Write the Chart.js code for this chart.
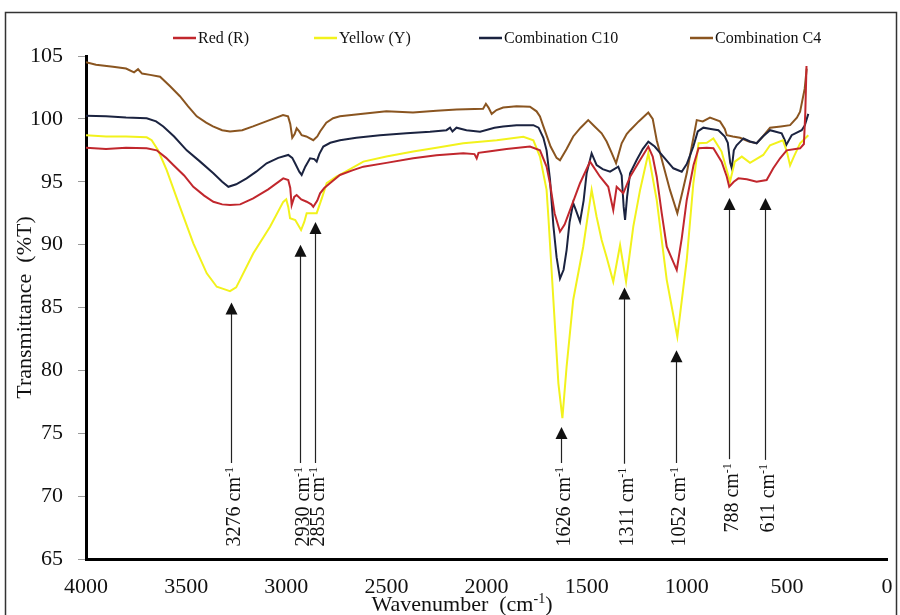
<!DOCTYPE html>
<html>
<head>
<meta charset="utf-8">
<title>FTIR spectra</title>
<script src="https://cdn.jsdelivr.net/npm/chart.js@4.4.0/dist/chart.umd.min.js"></script>
<style>
  html, body { margin: 0; padding: 0; background: #fff; }
  .chart-box { position: relative; width: 900px; height: 615px; }
</style>
</head>
<body>
<div class="chart-box"><canvas id="ftir-chart" width="900" height="615"></canvas></div>
<script>
"use strict";

// wavenumber ticks (cm-1), drawn reversed
var xTicks = [4000, 3500, 3000, 2500, 2000, 1500, 1000, 500, 0];
var yTicks = [65, 70, 75, 80, 85, 90, 95, 100, 105];

var seriesNames = ['Red (R)', 'Yellow (Y)', 'Combination C10', 'Combination C4'];

var redWave = [4000, 3900, 3800, 3697, 3647, 3600, 3564, 3510, 3464, 3410, 3364, 3320, 3281, 3230, 3165, 3090, 3015, 2990, 2980, 2973, 2960, 2948, 2925, 2898, 2875, 2865, 2845, 2831, 2810, 2782, 2732, 2670, 2615, 2500, 2366, 2250, 2116, 2060, 2049, 2040, 1990, 1900, 1783, 1733, 1700, 1683, 1660, 1633, 1610, 1583, 1533, 1483, 1433, 1392, 1367, 1350, 1317, 1283, 1233, 1192, 1170, 1150, 1125, 1100, 1050, 1025, 1000, 966, 941, 900, 867, 826, 800, 788, 765, 742, 700, 651, 601, 568, 534, 501, 434, 415, 408, 402];
var redT = [97.7, 97.6, 97.7, 97.66, 97.5, 96.9, 96.33, 95.5, 94.6, 93.9, 93.41, 93.2, 93.15, 93.2, 93.68, 94.4, 95.27, 95.14, 94.5, 93.15, 93.8, 93.95, 93.6, 93.41, 93.2, 93.0, 93.5, 94.08, 94.5, 94.88, 95.54, 95.9, 96.2, 96.5, 96.86, 97.1, 97.26, 97.2, 96.86, 97.3, 97.4, 97.6, 97.8, 97.5, 96.2, 94.88, 92.5, 91.03, 91.6, 92.75, 94.88, 96.6, 95.4, 94.6, 92.75, 94.6, 94.08, 95.4, 96.73, 97.8, 97.0, 95.4, 92.5, 89.83, 87.98, 90.5, 93.55, 96.33, 97.66, 97.7, 97.66, 96.6, 95.4, 94.6, 95.0, 95.27, 95.2, 95.0, 95.14, 96.07, 96.87, 97.5, 97.66, 98.0, 100.5, 104.2];

var yellowWave = [4000, 3900, 3800, 3697, 3672, 3640, 3597, 3531, 3464, 3397, 3347, 3300, 3281, 3250, 3231, 3165, 3081, 3015, 3000, 2990, 2981, 2955, 2926, 2910, 2898, 2848, 2820, 2798, 2750, 2732, 2615, 2500, 2366, 2250, 2116, 1949, 1816, 1766, 1733, 1700, 1691, 1666, 1641, 1621, 1600, 1567, 1517, 1475, 1450, 1425, 1400, 1367, 1350, 1333, 1303, 1267, 1233, 1192, 1150, 1100, 1047, 1000, 967, 941, 900, 867, 826, 784, 760, 725, 684, 618, 584, 520, 500, 484, 465, 434, 393];
var yellowT = [98.7, 98.6, 98.6, 98.53, 98.3, 97.5, 95.93, 93.0, 90.1, 87.72, 86.65, 86.4, 86.3, 86.6, 87.2, 89.3, 91.42, 93.4, 93.6, 93.0, 92.1, 91.96, 91.16, 91.8, 92.5, 92.5, 93.8, 94.88, 95.4, 95.54, 96.6, 97.0, 97.4, 97.7, 98.06, 98.3, 98.58, 98.3, 97.0, 94.35, 92.2, 85.6, 78.97, 76.2, 80.29, 85.6, 89.83, 94.35, 92.2, 90.37, 89.0, 87.05, 88.5, 89.97, 87.05, 91.43, 94.35, 97.26, 93.55, 87.2, 82.68, 88.78, 94.88, 98.06, 98.1, 98.45, 97.4, 95.0, 96.6, 97.0, 96.5, 97.13, 97.9, 98.3, 97.4, 96.3, 97.0, 98.06, 98.7];

var c10Wave = [4000, 3900, 3800, 3697, 3650, 3614, 3560, 3497, 3430, 3364, 3320, 3289, 3250, 3198, 3150, 3098, 3040, 2990, 2970, 2956, 2935, 2923, 2905, 2881, 2860, 2848, 2835, 2815, 2780, 2732, 2650, 2532, 2400, 2282, 2200, 2182, 2170, 2150, 2100, 2032, 1960, 1917, 1850, 1766, 1740, 1716, 1700, 1683, 1666, 1650, 1633, 1615, 1600, 1585, 1567, 1555, 1533, 1515, 1500, 1475, 1450, 1420, 1383, 1342, 1325, 1315, 1308, 1298, 1283, 1250, 1220, 1192, 1160, 1117, 1067, 1025, 1000, 967, 945, 917, 880, 842, 810, 795, 783, 775, 765, 751, 717, 684, 651, 620, 584, 526, 510, 504, 490, 476, 426, 410, 393];
var c10T = [100.25, 100.2, 100.1, 100.05, 99.8, 99.4, 98.6, 97.5, 96.6, 95.67, 95.0, 94.6, 94.8, 95.27, 95.8, 96.47, 96.9, 97.13, 96.9, 96.47, 95.8, 95.54, 96.2, 96.86, 96.8, 96.6, 97.2, 97.8, 98.1, 98.3, 98.5, 98.7, 98.85, 98.98, 99.1, 99.3, 99.0, 99.3, 99.1, 98.98, 99.3, 99.4, 99.5, 99.5, 99.3, 98.5, 97.5, 95.2, 91.5, 89.0, 87.3, 88.0, 89.57, 91.8, 93.3, 92.8, 91.83, 93.5, 95.67, 97.26, 96.33, 96.0, 95.8, 96.2, 95.5, 93.0, 91.96, 93.8, 95.67, 96.73, 97.6, 98.19, 97.8, 96.99, 96.07, 95.8, 96.4, 97.8, 99.0, 99.3, 99.2, 99.1, 98.6, 98.1, 96.5, 96.07, 97.5, 97.9, 98.45, 98.2, 98.06, 98.6, 99.1, 98.85, 98.3, 97.9, 98.3, 98.7, 99.1, 99.5, 100.4];

var c4Wave = [4000, 3950, 3865, 3800, 3760, 3740, 3720, 3680, 3630, 3580, 3531, 3490, 3447, 3400, 3366, 3320, 3281, 3220, 3166, 3100, 3016, 2991, 2980, 2970, 2958, 2948, 2935, 2923, 2900, 2865, 2845, 2831, 2800, 2766, 2732, 2617, 2500, 2367, 2250, 2149, 2017, 2003, 1990, 1974, 1950, 1917, 1850, 1783, 1750, 1733, 1716, 1680, 1650, 1633, 1600, 1567, 1530, 1492, 1460, 1425, 1400, 1375, 1353, 1340, 1325, 1300, 1283, 1240, 1192, 1170, 1150, 1120, 1084, 1047, 1020, 1000, 975, 950, 920, 884, 834, 810, 800, 770, 734, 690, 651, 620, 584, 530, 484, 450, 434, 411, 401];
var c4T = [104.5, 104.3, 104.15, 104.0, 103.7, 103.95, 103.6, 103.5, 103.35, 102.6, 101.8, 101.0, 100.2, 99.7, 99.4, 99.1, 99.0, 99.1, 99.4, 99.8, 100.3, 100.2, 99.6, 98.5, 98.8, 99.25, 99.0, 98.7, 98.6, 98.3, 98.6, 99.0, 99.7, 100.05, 100.2, 100.4, 100.6, 100.5, 100.65, 100.75, 100.8, 101.2, 100.9, 100.4, 100.7, 100.9, 101.0, 100.97, 100.6, 100.2, 99.4, 97.8, 96.9, 96.7, 97.6, 98.6, 99.3, 99.9, 99.4, 98.85, 98.2, 97.3, 96.47, 97.2, 98.06, 98.8, 99.1, 99.8, 100.5, 100.0, 98.3, 96.5, 94.35, 92.5, 94.3, 95.67, 97.8, 99.9, 99.8, 100.1, 99.8, 99.2, 98.7, 98.6, 98.5, 98.2, 98.06, 98.6, 99.3, 99.4, 99.5, 100.1, 100.57, 102.4, 104.0];

// marked bands: wavenumber, arrow tip (%T) and foot of the label (%T)
var peakWaves = [3276, 2930, 2855, 1626, 1311, 1052, 788, 611];
var peakTips = [85.4, 90.0, 91.8, 75.5, 86.6, 81.6, 93.7, 93.7];
var peakFoot = [66.0, 66.0, 66.0, 66.0, 66.0, 66.0, 67.1, 67.1];

var serif = '"Liberation Serif", "Times New Roman", serif';

function toPoints(xs, ys) {
  return xs.map(function (x, i) {
    return { x: x, y: ys[i] };
  });
}

// text pieces, some of them raised as superscript
function drawParts(ctx, parts, x, y, size, measureOnly) {
  var cx = x;
  parts.forEach(function (p) {
    var s = p.sup ? Math.round(size * 0.62) : size;
    ctx.font = s + 'px ' + serif;
    if (!measureOnly) {
      ctx.fillText(p.t, cx, p.sup ? y - size * 0.38 : y);
    }
    cx += ctx.measureText(p.t).width;
  });
  return cx - x;
}

var framePlugin = {
  id: 'frame',
  beforeDraw: function (chart) {
    var ctx = chart.ctx;
    ctx.save();
    ctx.fillStyle = '#fff';
    ctx.fillRect(0, 0, chart.width, chart.height);
    ctx.strokeStyle = '#333';
    ctx.lineWidth = 1.5;
    ctx.strokeRect(5.5, 12.5, 891, 620);
    ctx.restore();
  }
};

var legendX = [173, 314, 479, 690];
var topLegendPlugin = {
  id: 'topLegend',
  afterDraw: function (chart) {
    var ctx = chart.ctx;
    ctx.save();
    chart.data.datasets.forEach(function (ds, i) {
      var x = legendX[i], y = 38;
      ctx.strokeStyle = ds.borderColor;
      ctx.lineWidth = 2.5;
      ctx.beginPath();
      ctx.moveTo(x, y);
      ctx.lineTo(x + 23, y);
      ctx.stroke();
      ctx.fillStyle = '#111';
      ctx.font = '16px ' + serif;
      ctx.textBaseline = 'middle';
      ctx.textAlign = 'left';
      ctx.fillText(ds.label, x + 25, y + 1);
    });
    ctx.restore();
  }
};

var peakPlugin = {
  id: 'peaks',
  afterDatasetsDraw: function (chart) {
    var ctx = chart.ctx;
    var xs = chart.scales.x, ys = chart.scales.y;
    var size = 20;
    ctx.save();
    ctx.fillStyle = '#111';
    ctx.textAlign = 'left';
    ctx.textBaseline = 'alphabetic';
    peakWaves.forEach(function (w, i) {
      var px = Math.round(xs.getPixelForValue(w)) + 0.5;
      var tipY = ys.getPixelForValue(peakTips[i]);
      var footY = ys.getPixelForValue(peakFoot[i]);
      var parts = [{ t: w + ' cm' }, { t: '-1', sup: true }];

      ctx.save();
      ctx.translate(px + 2 + size * 0.33, footY);
      ctx.rotate(-Math.PI / 2);
      var len = drawParts(ctx, parts, 0, 0, size);
      ctx.restore();

      var lineTop = footY - len - 4;
      ctx.strokeStyle = '#222';
      ctx.lineWidth = 1.2;
      ctx.beginPath();
      ctx.moveTo(px, lineTop);
      ctx.lineTo(px, tipY + 10);
      ctx.stroke();

      ctx.beginPath();
      ctx.moveTo(px, tipY);
      ctx.lineTo(px - 6, tipY + 12);
      ctx.lineTo(px + 6, tipY + 12);
      ctx.closePath();
      ctx.fill();
    });
    ctx.restore();
  }
};

var xTitlePlugin = {
  id: 'xTitle',
  afterDraw: function (chart) {
    var ctx = chart.ctx;
    var parts = [{ t: 'Wavenumber  (cm' }, { t: '-1', sup: true }, { t: ')' }];
    ctx.save();
    ctx.fillStyle = '#111';
    ctx.textAlign = 'left';
    ctx.textBaseline = 'alphabetic';
    var w = drawParts(ctx, parts, 0, 0, 22, true);
    drawParts(ctx, parts, 462 - w / 2, 611, 22);
    ctx.restore();
  }
};

var colors = ['#C1272D', '#F2F21C', '#1B2340', '#8A5520'];
var waves = [redWave, yellowWave, c10Wave, c4Wave];
var values = [redT, yellowT, c10T, c4T];

var ctxFtir = document.getElementById('ftir-chart').getContext('2d');
var ftirChart = new Chart(ctxFtir, {
  type: 'line',
  data: {
    datasets: seriesNames.map(function (name, i) {
      return {
        label: name,
        data: toPoints(waves[i], values[i]),
        borderColor: colors[i],
        backgroundColor: colors[i],
        borderWidth: 2,
        pointRadius: 0,
        tension: 0,
        fill: false
      };
    })
  },
  options: {
    responsive: false,
    animation: false,
    events: [],
    layout: {
      padding: { top: 56, right: 13, left: 0, bottom: 0 }
    },
    scales: {
      x: {
        type: 'linear',
        reverse: true,
        min: 0,
        max: 4000,
        afterFit: function (scale) {
          scale.height = 56;
          scale.paddingLeft = 0;
          scale.paddingRight = 0;
        },
        afterBuildTicks: function (scale) {
          scale.ticks = xTicks.map(function (v) { return { value: v }; });
        },
        grid: { display: false, drawTicks: false, drawOnChartArea: false },
        border: { display: true, color: '#000', width: 3 },
        ticks: {
          autoSkip: false,
          maxRotation: 0,
          padding: 15,
          color: '#111',
          font: { family: serif, size: 22 },
          callback: function (value) { return String(value); }
        }
      },
      y: {
        min: 65,
        max: 105,
        afterFit: function (scale) { scale.width = 86; },
        afterBuildTicks: function (scale) {
          scale.ticks = yTicks.map(function (v) { return { value: v }; });
        },
        grid: { drawOnChartArea: false, drawTicks: true, tickLength: 8, color: '#9a9a9a' },
        border: { display: true, color: '#000', width: 3 },
        ticks: {
          padding: 15,
          color: '#111',
          font: { family: serif, size: 22 },
          callback: function (value) { return String(value); }
        },
        title: {
          display: true,
          text: 'Transmittance  (%T)',
          color: '#111',
          padding: { top: 12, bottom: 0 },
          font: { family: serif, size: 22 }
        }
      }
    },
    plugins: {
      legend: { display: false },
      tooltip: { enabled: false }
    }
  },
  plugins: [framePlugin, peakPlugin, topLegendPlugin, xTitlePlugin]
});
</script>
</body>
</html>
